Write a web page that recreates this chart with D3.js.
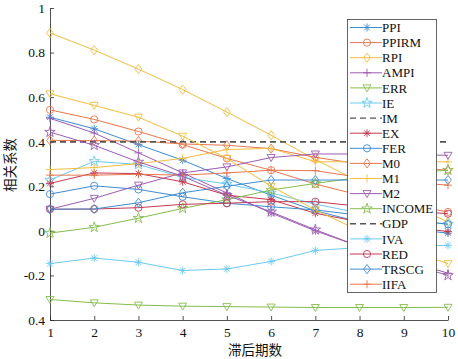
<!DOCTYPE html>
<html>
<head>
<meta charset="utf-8">
<script src="https://cdn.jsdelivr.net/npm/d3@7"></script>
<style>
  body { margin: 0; background: #fff; }
  text { font-family: 'Liberation Serif', 'Times New Roman', serif; }
  .cjk { font-family: 'Noto Sans CJK SC', sans-serif; }
</style>
</head>
<body>
<svg id="chart" width="458" height="359"></svg>
<script>
// lag periods on the x axis
const lags = [1, 2, 3, 4, 5, 6, 7, 8, 9, 10];
const yTickValues = [-0.4, -0.2, 0, 0.2, 0.4, 0.6, 0.8, 1];
const yTickLabels = ['0.4', '-0.2', '0', '0.2', '0.4', '0.6', '0.8', '1'];

// correlation coefficients
const PPI    = [0.51, 0.458, 0.387, 0.317, 0.235, 0.16, 0.09, 0.04, 0.01, -0.01];
const PPIRM  = [0.543, 0.5, 0.446, 0.387, 0.325, 0.272, 0.21, 0.16, 0.12, 0.085];
const RPI    = [0.888, 0.811, 0.726, 0.634, 0.533, 0.429, 0.32, 0.22, 0.13, 0.04];
const AMPI   = [0.505, 0.439, 0.35, 0.26, 0.17, 0.08, 0.0, -0.07, -0.13, -0.19];
const ERR    = [-0.308, -0.323, -0.333, -0.338, -0.34, -0.342, -0.344, -0.344, -0.344, -0.343];
const IE     = [0.228, 0.312, 0.298, 0.24, 0.21, 0.17, 0.12, 0.08, 0.05, 0.03];
const IM     = [0.4, 0.4, 0.4, 0.4, 0.4, 0.4, 0.4, 0.4, 0.4, 0.4];
const EX     = [0.213, 0.26, 0.257, 0.22, 0.16, 0.14, 0.079, 0.04, 0.02, -0.003];
const FER    = [0.165, 0.202, 0.186, 0.153, 0.124, 0.108, 0.094, 0.07, 0.05, 0.03];
const M0     = [0.406, 0.405, 0.403, 0.39, 0.384, 0.369, 0.33, 0.3, 0.285, 0.272];
const M1     = [0.275, 0.284, 0.302, 0.325, 0.365, 0.37, 0.31, 0.31, 0.31, 0.31];
const M2     = [0.097, 0.146, 0.205, 0.26, 0.287, 0.329, 0.345, 0.345, 0.342, 0.339];
const INCOME = [-0.01, 0.016, 0.057, 0.101, 0.14, 0.183, 0.213, 0.24, 0.26, 0.272];
const GDP    = [0.4, 0.4, 0.4, 0.4, 0.4, 0.4, 0.4, 0.4, 0.4, 0.4];
const IVA    = [-0.147, -0.122, -0.141, -0.178, -0.171, -0.137, -0.088, -0.075, -0.068, -0.065];
const RED    = [0.097, 0.098, 0.104, 0.119, 0.124, 0.131, 0.131, 0.11, 0.09, 0.077];
const TRSCG  = [0.097, 0.098, 0.126, 0.171, 0.2, 0.228, 0.228, 0.228, 0.228, 0.228];
const IIFA   = [0.25, 0.25, 0.254, 0.25, 0.26, 0.272, 0.27, 0.24, 0.22, 0.205];
// two more lines are plotted but have no legend entry
const extraYellow = [0.615, 0.563, 0.51, 0.425, 0.325, 0.2, 0.094, 0.0, -0.08, -0.147];
const extraPurple = [0.443, 0.384, 0.309, 0.245, 0.16, 0.085, 0.005, -0.07, -0.14, -0.2];

const blue = '#3f8bd0', orange = '#e8764c', yellow = '#f2bd3f', purple = '#9c5cb2',
      green = '#84bd4c', cyan = '#6ccaf0', red = '#c23a52', gray = '#555';

let series = [
  {name: 'PPI', values: PPI, color: blue, marker: 'star'},
  {name: 'PPIRM', values: PPIRM, color: orange, marker: 'circle'},
  {name: 'RPI', values: RPI, color: yellow, marker: 'diamond'},
  {name: 'AMPI', values: AMPI, color: purple, marker: 'plus'},
  {name: 'ERR', values: ERR, color: green, marker: 'tri'},
  {name: 'IE', values: IE, color: cyan, marker: 'penta'},
  {name: 'IM', values: IM, color: gray, marker: null, dash: true},
  {name: 'EX', values: EX, color: red, marker: 'star'},
  {name: 'FER', values: FER, color: blue, marker: 'circle'},
  {name: 'M0', values: M0, color: orange, marker: 'diamond'},
  {name: 'M1', values: M1, color: yellow, marker: 'plus'},
  {name: 'M2', values: M2, color: purple, marker: 'tri'},
  {name: 'INCOME', values: INCOME, color: green, marker: 'penta'},
  {name: 'GDP', values: GDP, color: gray, marker: null, dash: true},
  {name: 'IVA', values: IVA, color: cyan, marker: 'star'},
  {name: 'RED', values: RED, color: red, marker: 'circle'},
  {name: 'TRSCG', values: TRSCG, color: blue, marker: 'diamond'},
  {name: 'IIFA', values: IIFA, color: orange, marker: 'plus'},
  {name: null, values: extraYellow, color: yellow, marker: 'tri'},
  {name: null, values: extraPurple, color: purple, marker: 'penta'}
];

function markerPath(type) {
  let s = 4;
  if (type == 'star') {
    let d = s * 0.72;
    return 'M' + (-s) + ',0H' + s + 'M0,' + (-s) + 'V' + s +
      'M' + (-d) + ',' + (-d) + 'L' + d + ',' + d + 'M' + (-d) + ',' + d + 'L' + d + ',' + (-d);
  }
  if (type == 'plus') return 'M' + (-s) + ',0H' + s + 'M0,' + (-s) + 'V' + s;
  if (type == 'circle') return d3.symbol(d3.symbolCircle, Math.PI * 3.6 * 3.6)();
  if (type == 'diamond') return 'M0,-4.6L3.4,0L0,4.6L-3.4,0Z';
  if (type == 'tri') return 'M-4,-3L4,-3L0,4Z';
  if (type == 'penta') return d3.symbol(d3.symbolStar, 34)();
  return '';
}

let svg = d3.select('#chart');
let x = d3.scaleLinear().domain([1, 10]).range([50, 448]);
let y = d3.scaleLinear().domain([-0.4, 1]).range([320, 8]);

// axes, MATLAB style ticks pointing inward
let yAxis = svg.append('g')
  .attr('transform', 'translate(50,0)')
  .call(d3.axisLeft(y).tickValues(yTickValues).tickSizeInner(-4).tickSizeOuter(0).tickPadding(5)
    .tickFormat(function(d, i) { return yTickLabels[i]; }));
let xAxis = svg.append('g')
  .attr('transform', 'translate(0,320)')
  .call(d3.axisBottom(x).tickValues(lags).tickSizeInner(-4).tickSizeOuter(0).tickPadding(7)
    .tickFormat(d3.format('d')));
[xAxis, yAxis].forEach(function(a) {
  a.select('.domain').attr('stroke', '#262626').attr('stroke-width', 0.8);
  a.selectAll('.tick line').attr('stroke', '#262626').attr('stroke-width', 0.8);
  a.selectAll('.tick text').attr('font-size', 13.5).attr('fill', '#111')
    .attr('font-family', 'Liberation Serif, serif');
});

let line = d3.line()
  .x(function(d, i) { return x(lags[i]); })
  .y(function(d) { return y(d); });

let plot = svg.append('g');
series.forEach(function(s) {
  plot.append('path')
    .attr('d', line(s.values))
    .attr('fill', 'none')
    .attr('stroke', s.color)
    .attr('stroke-width', s.dash ? 1.4 : 1)
    .attr('stroke-dasharray', s.dash ? '6,4' : null);
  if (s.marker) {
    plot.selectAll(null)
      .data(s.values).enter()
      .append('path')
      .attr('d', markerPath(s.marker))
      .attr('transform', function(d, i) { return 'translate(' + x(lags[i]) + ',' + y(d) + ')'; })
      .attr('fill', 'none')
      .attr('stroke', s.color)
      .attr('stroke-width', 0.9);
  }
});

// axis titles
svg.append('text')
  .attr('class', 'cjk')
  .attr('x', 255)
  .attr('y', 355)
  .attr('text-anchor', 'middle')
  .attr('font-size', 13.5)
  .attr('fill', '#111')
  .text('滞后期数');
svg.append('text')
  .attr('class', 'cjk')
  .attr('transform', 'translate(15,165) rotate(-90)')
  .attr('text-anchor', 'middle')
  .attr('font-size', 13.5)
  .attr('fill', '#111')
  .text('相关系数');

// legend
let named = series.filter(function(s) { return s.name; });
let legend = svg.append('g');
legend.append('rect')
  .attr('x', 347.5)
  .attr('y', 19.5)
  .attr('width', 89)
  .attr('height', 273)
  .attr('fill', '#fff')
  .attr('stroke', '#555')
  .attr('stroke-width', 0.9);
let ly = 27.5;
for (let i = 0; i < named.length; i++) {
  let s = named[i];
  legend.append('line')
    .attr('x1', 350).attr('x2', 382)
    .attr('y1', ly).attr('y2', ly)
    .attr('stroke', s.color)
    .attr('stroke-width', s.dash ? 1.4 : 1)
    .attr('stroke-dasharray', s.dash ? '6,4' : null);
  if (s.marker) {
    legend.append('path')
      .attr('d', markerPath(s.marker))
      .attr('transform', 'translate(367,' + ly + ')')
      .attr('fill', 'none')
      .attr('stroke', s.color)
      .attr('stroke-width', 0.9);
  }
  legend.append('text')
    .attr('x', 382)
    .attr('y', ly + 4.6)
    .attr('font-size', 13)
    .attr('fill', '#111')
    .text(s.name);
  ly += 15.1;
}
</script>
</body>
</html>
